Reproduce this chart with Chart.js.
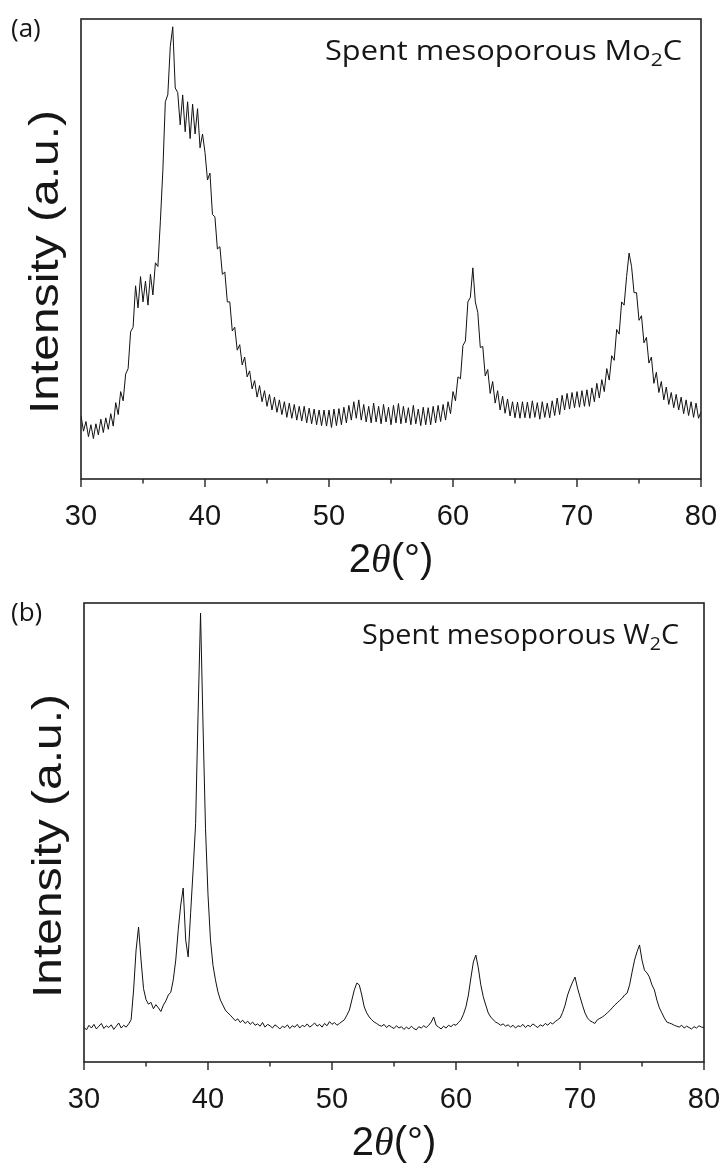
<!DOCTYPE html>
<html>
<head>
<meta charset="utf-8">
<script src="https://cdn.jsdelivr.net/npm/chart.js@4.4.1/dist/chart.umd.min.js"></script>
<style>
  html, body { margin: 0; padding: 0; background: #fff; }
  #wrap { position: relative; width: 723px; height: 1169px; }
  canvas { position: absolute; left: 0; }
  #chartA { top: 0; }
  #chartB { top: 584px; }
</style>
</head>
<body>
<div id="wrap">
  <canvas id="chartA" width="723" height="584"></canvas>
  <canvas id="chartB" width="723" height="585"></canvas>
</div>
<script>
// 2θ grid (degrees), shared by both patterns
const angles = [
  30, 30.2, 30.4, 30.6, 30.8, 31, 31.2, 31.4, 31.6, 31.8,
  32, 32.2, 32.4, 32.6, 32.8, 33, 33.2, 33.4, 33.6, 33.8,
  34, 34.2, 34.4, 34.6, 34.8, 35, 35.2, 35.4, 35.6, 35.8,
  36, 36.2, 36.4, 36.6, 36.8, 37, 37.2, 37.4, 37.6, 37.8,
  38, 38.2, 38.4, 38.6, 38.8, 39, 39.2, 39.4, 39.6, 39.8,
  40, 40.2, 40.4, 40.6, 40.8, 41, 41.2, 41.4, 41.6, 41.8,
  42, 42.2, 42.4, 42.6, 42.8, 43, 43.2, 43.4, 43.6, 43.8,
  44, 44.2, 44.4, 44.6, 44.8, 45, 45.2, 45.4, 45.6, 45.8,
  46, 46.2, 46.4, 46.6, 46.8, 47, 47.2, 47.4, 47.6, 47.8,
  48, 48.2, 48.4, 48.6, 48.8, 49, 49.2, 49.4, 49.6, 49.8,
  50, 50.2, 50.4, 50.6, 50.8, 51, 51.2, 51.4, 51.6, 51.8,
  52, 52.2, 52.4, 52.6, 52.8, 53, 53.2, 53.4, 53.6, 53.8,
  54, 54.2, 54.4, 54.6, 54.8, 55, 55.2, 55.4, 55.6, 55.8,
  56, 56.2, 56.4, 56.6, 56.8, 57, 57.2, 57.4, 57.6, 57.8,
  58, 58.2, 58.4, 58.6, 58.8, 59, 59.2, 59.4, 59.6, 59.8,
  60, 60.2, 60.4, 60.6, 60.8, 61, 61.2, 61.4, 61.6, 61.8,
  62, 62.2, 62.4, 62.6, 62.8, 63, 63.2, 63.4, 63.6, 63.8,
  64, 64.2, 64.4, 64.6, 64.8, 65, 65.2, 65.4, 65.6, 65.8,
  66, 66.2, 66.4, 66.6, 66.8, 67, 67.2, 67.4, 67.6, 67.8,
  68, 68.2, 68.4, 68.6, 68.8, 69, 69.2, 69.4, 69.6, 69.8,
  70, 70.2, 70.4, 70.6, 70.8, 71, 71.2, 71.4, 71.6, 71.8,
  72, 72.2, 72.4, 72.6, 72.8, 73, 73.2, 73.4, 73.6, 73.8,
  74, 74.2, 74.4, 74.6, 74.8, 75, 75.2, 75.4, 75.6, 75.8,
  76, 76.2, 76.4, 76.6, 76.8, 77, 77.2, 77.4, 77.6, 77.8,
  78, 78.2, 78.4, 78.6, 78.8, 79, 79.2, 79.4, 79.6, 79.8,
  80
];

// (a) spent mesoporous Mo2C, intensity (a.u.)
const moIntensity = [
  138, 104, 125, 92, 118, 88, 120, 96, 130, 101,
  133, 108, 142, 115, 166, 140, 190, 170, 228, 240,
  320, 330, 420, 372, 440, 385, 430, 378, 445, 400,
  470, 462, 560, 670, 820, 835, 940, 983, 850, 840,
  770, 835, 755, 820, 740, 815, 750, 805, 720, 750,
  710, 650, 665, 575, 570, 500, 505, 445, 450, 385,
  385, 322, 330, 280, 292, 248, 265, 222, 235, 196,
  214, 178, 203, 168, 192, 158, 184, 150, 178, 145,
  172, 140, 168, 134, 165, 132, 162, 128, 158, 126,
  158, 122, 154, 120, 152, 118, 150, 116, 150, 115,
  150, 112, 152, 116, 153, 118, 156, 122, 160, 128,
  168, 132, 172, 128, 162, 124, 158, 122, 165, 124,
  158, 120, 162, 124, 156, 118, 160, 122, 164, 120,
  158, 122, 155, 118, 160, 120, 152, 116, 156, 118,
  155, 118, 158, 122, 160, 125, 162, 128, 168, 142,
  190, 170, 222, 218, 290, 300, 385, 395, 459, 385,
  362, 286, 288, 224, 238, 186, 212, 165, 192, 150,
  180, 143, 174, 137, 168, 133, 167, 132, 168, 133,
  167, 132, 170, 134, 166, 130, 168, 134, 165, 133,
  170, 138, 176, 140, 182, 150, 186, 152, 188, 155,
  190, 156, 192, 158, 194, 158, 198, 168, 208, 176,
  216, 190, 240, 215, 268, 258, 325, 315, 385, 378,
  440, 491, 462, 405, 405, 345, 355, 296, 308, 252,
  265, 208, 232, 188, 212, 172, 200, 162, 188, 155,
  184, 150, 178, 142, 172, 138, 168, 134, 165, 132,
  146
];

// (b) spent mesoporous W2C, intensity (a.u.)
const wIntensity = [
  76, 70, 80, 74, 82, 72, 78, 84, 73, 79,
  75, 81, 71, 78, 85, 74, 80, 76, 83, 92,
  157, 244, 294, 222, 160, 136, 126, 130, 116, 125,
  118, 110, 124, 133, 146, 152, 179, 222, 288, 342,
  379, 266, 229, 325, 418, 519, 760, 978, 732, 508,
  364, 266, 211, 179, 153, 135, 124, 113, 107, 102,
  96, 90, 94, 86, 91, 84, 89, 82, 87, 80,
  83, 78, 86, 76, 82, 79, 74, 81, 77, 72,
  78, 75, 81, 73, 79, 76, 82, 74, 80, 77,
  83, 76, 80, 85, 78, 82, 76, 84, 79, 88,
  82, 86, 80, 84, 88, 92, 102, 113, 135, 157,
  172, 168, 146, 120, 107, 98, 92, 87, 84, 80,
  78, 82, 75, 80, 76, 73, 79, 74, 77, 71,
  76, 72, 78, 73, 70, 77, 74, 79, 75, 80,
  87, 98, 80, 76, 72, 78, 74, 80, 77, 82,
  80, 86, 92, 104, 120, 146, 183, 218, 233, 205,
  168, 142, 124, 107, 98, 92, 87, 84, 80, 83,
  78, 81, 76, 80, 74, 79, 77, 82, 75, 80,
  77, 83, 79, 75, 81, 78, 84, 80, 86, 83,
  88, 92, 96, 108, 124, 146, 161, 174, 185, 161,
  142, 124, 107, 96, 90, 87, 84, 92, 95, 98,
  102, 107, 112, 118, 124, 129, 134, 139, 146, 150,
  168, 196, 222, 240, 255, 222, 200, 194, 185, 168,
  157, 135, 118, 107, 96, 87, 85, 83, 80, 78,
  76, 80, 74, 78, 75, 72, 77, 74, 79, 76,
  75
];

const xTickValues = [30, 40, 50, 60, 70, 80];

const INK = '#161616';

// frame, minor/major ticks and all the panel texts
const panelDecor = {
    id: 'panelDecor',
    afterDraw(chart, args, opts) {
        const ctx = chart.ctx;
        const a = chart.chartArea;
        const xs = chart.scales.x;

        ctx.save();
        ctx.strokeStyle = '#222';
        ctx.lineWidth = 1.6;
        ctx.strokeRect(a.left, a.top, a.right - a.left, a.bottom - a.top);

        // ticks point outward, long ones on labelled values
        ctx.lineWidth = 1.4;
        xs.ticks.forEach(t => {
            const px = xs.getPixelForValue(t.value);
            const len = xTickValues.includes(t.value) ? 8 : 4.5;
            ctx.beginPath();
            ctx.moveTo(px, a.bottom);
            ctx.lineTo(px, a.bottom + len);
            ctx.stroke();
        });

        ctx.fillStyle = INK;

        // panel tag
        ctx.font = '26px "Open Sans"';
        ctx.textAlign = 'left';
        ctx.textBaseline = 'alphabetic';
        ctx.fillText(opts.tag, 11, opts.tagY);

        // sample name with subscript 2
        const mainFont = '28px "Open Sans"';
        const subFont = '19px "Open Sans"';
        ctx.font = mainFont;
        const w1 = ctx.measureText(opts.pre).width;
        const w3 = ctx.measureText('C').width;
        ctx.font = subFont;
        const w2 = ctx.measureText('2').width;
        const natural = w1 + w2 + w3;
        const sx = opts.nameWidth / natural;
        ctx.save();
        ctx.translate(opts.nameRight - opts.nameWidth, opts.nameY);
        ctx.scale(sx, 1);
        ctx.font = mainFont;
        ctx.fillText(opts.pre, 0, 0);
        ctx.font = subFont;
        ctx.fillText('2', w1, 6);
        ctx.font = mainFont;
        ctx.fillText('C', w1 + w2, 0);
        ctx.restore();

        // y title, rotated
        ctx.save();
        ctx.translate(opts.yTitleX, opts.yTitleY);
        ctx.rotate(-Math.PI / 2);
        ctx.scale(1.2, 1);
        ctx.font = '40px "Liberation Sans"';
        ctx.textAlign = 'center';
        ctx.fillText('Intensity (a.u.)', 0, 0);
        ctx.restore();

        // x title: 2θ(°)
        const parts = [
            ['2', '40px "Liberation Sans"'],
            ['θ', 'italic 40px "Liberation Serif"'],
            ['(°)', '40px "Liberation Sans"']
        ];
        let total = 0;
        parts.forEach(p => { ctx.font = p[1]; total += ctx.measureText(p[0]).width; });
        let x = (a.left + a.right) / 2 - total / 2;
        ctx.textAlign = 'left';
        parts.forEach(p => {
            ctx.font = p[1];
            ctx.fillText(p[0], x, opts.xTitleY);
            x += ctx.measureText(p[0]).width;
        });

        ctx.restore();
    }
};

function buildPanel(canvasId, values, pad, axisHeight, decor) {
    const points = angles.map((a, i) => ({ x: a, y: values[i] }));
    return new Chart(document.getElementById(canvasId), {
        type: 'line',
        data: {
            datasets: [{
                data: points,
                borderColor: '#111',
                borderWidth: 1,
                pointRadius: 0,
                tension: 0
            }]
        },
        options: {
            responsive: false,
            animation: false,
            layout: { padding: pad },
            plugins: {
                legend: { display: false },
                tooltip: { enabled: false },
                panelDecor: decor
            },
            scales: {
                x: {
                    type: 'linear',
                    min: 30,
                    max: 80,
                    grid: { display: false },
                    border: { display: false },
                    ticks: {
                        stepSize: 5,
                        autoSkip: false,
                        maxRotation: 0,
                        padding: 13,
                        color: INK,
                        font: { family: '"Liberation Sans"', size: 29 },
                        callback: v => xTickValues.includes(v) ? String(v) : ''
                    },
                    afterFit: scale => {
                        scale.height = axisHeight;
                        // labels overhanging the ends must not shrink the plot
                        scale.paddingLeft = 0;
                        scale.paddingRight = 0;
                    }
                },
                y: {
                    display: false,
                    min: 0,
                    max: 1000
                }
            }
        },
        plugins: [panelDecor]
    });
}

buildPanel('chartA', moIntensity,
    { top: 19, right: 22, left: 81, bottom: 0 }, 105,
    { tag: '(a)', tagY: 37, pre: 'Spent mesoporous Mo', nameRight: 682, nameWidth: 357, nameY: 60,
      yTitleX: 58, yTitleY: 262, xTitleY: 572 });

buildPanel('chartB', wIntensity,
    { top: 19, right: 19, left: 84, bottom: 0 }, 107,
    { tag: '(b)', tagY: 37, pre: 'Spent mesoporous W', nameRight: 679, nameWidth: 317, nameY: 60,
      yTitleX: 61, yTitleY: 262, xTitleY: 571 });
</script>
</body>
</html>
